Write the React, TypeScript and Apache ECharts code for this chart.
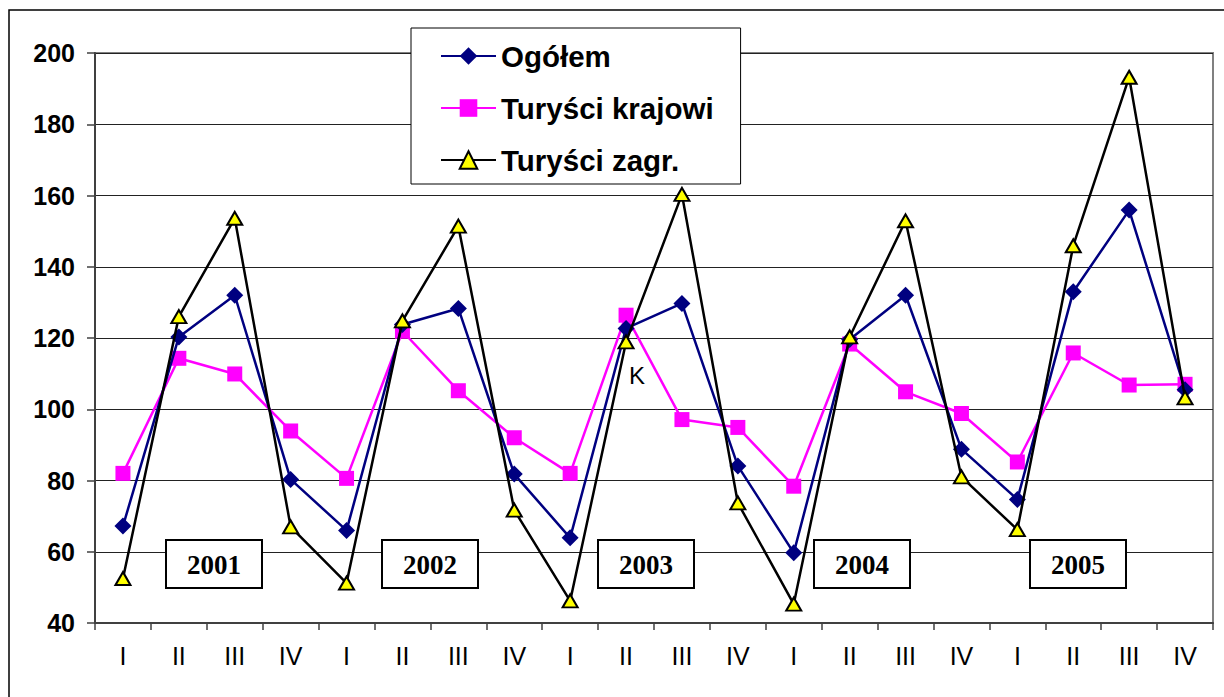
import React, { useEffect, useRef } from "react";
import * as echarts from "echarts";

const quarters = ["I", "II", "III", "IV", "I", "II", "III", "IV", "I", "II", "III", "IV", "I", "II", "III", "IV", "I", "II", "III", "IV"];
const years = ["2001", "2002", "2003", "2004", "2005"];
const ogolem = [67.2, 120.3, 132.0, 80.3, 66.0, 123.8, 128.3, 81.8, 63.9, 122.7, 129.7, 84.1, 59.7, 119.6, 132.0, 88.8, 74.7, 133.0, 155.9, 105.5];
const krajowi = [82.0, 114.3, 109.9, 93.9, 80.6, 121.9, 105.2, 92.0, 82.0, 126.4, 97.1, 94.9, 78.4, 118.3, 104.9, 98.8, 85.2, 115.8, 106.8, 107.0];
const zagr = [52.5, 126.0, 153.6, 67.0, 51.2, 124.8, 151.4, 71.7, 46.2, 118.9, 160.3, 73.7, 45.3, 120.3, 152.9, 81.0, 66.2, 145.9, 193.2, 103.2];
const yearBoxLeft = [166, 382, 598, 814, 1030];

export default function App() {
  const ref = useRef<HTMLDivElement>(null);
  useEffect(() => {
    if (!ref.current) return;
    const chart = echarts.init(ref.current, null, { renderer: "svg" });
    const graphics: any[] = [
      {
        type: "rect",
        shape: { x: 9, y: 10, width: 1240, height: 720 },
        style: { fill: "none", stroke: "#000", lineWidth: 1.5 },
        z: 0,
        silent: true,
      },
      {
        type: "text",
        x: 637,
        y: 375,
        style: { text: "K", font: "24px 'Liberation Sans', Arial, sans-serif", fill: "#000", align: "center", verticalAlign: "middle" },
        z: 100,
      },
    ];
    years.forEach((yr, i) => {
      graphics.push({
        type: "rect",
        shape: { x: yearBoxLeft[i], y: 540, width: 96, height: 48 },
        style: { fill: "#fff", stroke: "#000", lineWidth: 2 },
        z: 50,
      });
      graphics.push({
        type: "text",
        x: yearBoxLeft[i] + 48,
        y: 565,
        style: { text: yr, font: "bold 27px 'Liberation Serif', 'Times New Roman', serif", fill: "#000", align: "center", verticalAlign: "middle" },
        z: 51,
      });
    });
    chart.setOption({
      animation: false,
      backgroundColor: "#fff",
      grid: {
        left: 95,
        top: 53,
        right: 11,
        bottom: 74,
        show: true,
        borderColor: "#808080",
        borderWidth: 2,
      },
      legend: {
        orient: "vertical",
        left: 411,
        top: 28,
        data: ["Ogółem", "Turyści krajowi", "Turyści zagr."],
        backgroundColor: "#fff",
        borderColor: "#000",
        borderWidth: 1,
        padding: [13, 27, 9, 29],
        itemWidth: 55,
        itemHeight: 22,
        itemGap: 22,
        textStyle: { fontFamily: "'Liberation Sans', Arial, sans-serif", fontSize: 29.5, fontWeight: "bold", color: "#000", lineHeight: 30 },
        z: 60,
      },
      xAxis: {
        type: "category",
        data: quarters,
        boundaryGap: true,
        axisLine: { lineStyle: { color: "#404040", width: 2 } },
        axisTick: { show: true, interval: 0, length: 7, lineStyle: { color: "#404040", width: 1.5 } },
        axisLabel: { interval: 0, margin: 20, fontSize: 25, color: "#000", fontFamily: "'Liberation Sans', Arial, sans-serif" },
        splitLine: { show: false },
      },
      yAxis: {
        type: "value",
        min: 40,
        max: 200,
        interval: 20,
        axisLine: { show: true, lineStyle: { color: "#404040", width: 2 } },
        axisTick: { show: true, length: 8, lineStyle: { color: "#404040", width: 1.5 } },
        axisLabel: { margin: 20, fontSize: 25, fontWeight: "bold", color: "#000", fontFamily: "'Liberation Sans', Arial, sans-serif" },
        splitLine: { show: true, lineStyle: { color: "#222", width: 1 } },
      },
      series: [
        {
          name: "Turyści krajowi",
          type: "line",
          data: krajowi,
          symbol: "rect",
          symbolSize: 15,
          lineStyle: { color: "#FF00FF", width: 2.5 },
          itemStyle: { color: "#FF00FF" },
          z: 2,
        },
        {
          name: "Ogółem",
          type: "line",
          data: ogolem,
          symbol: "diamond",
          symbolSize: 17,
          lineStyle: { color: "#000080", width: 2.5 },
          itemStyle: { color: "#000080" },
          z: 3,
        },
        {
          name: "Turyści zagr.",
          type: "line",
          data: zagr,
          symbol: "triangle",
          symbolSize: [15, 13],
          lineStyle: { color: "#000", width: 2.5 },
          itemStyle: { color: "#FFFF00", borderColor: "#000", borderWidth: 2 },
          z: 4,
        },
      ],
      graphic: graphics,
    });
    return () => chart.dispose();
  }, []);
  return <div ref={ref} style={{ position: "fixed", left: 0, top: 0, width: 1224, height: 697 }} />;
}
